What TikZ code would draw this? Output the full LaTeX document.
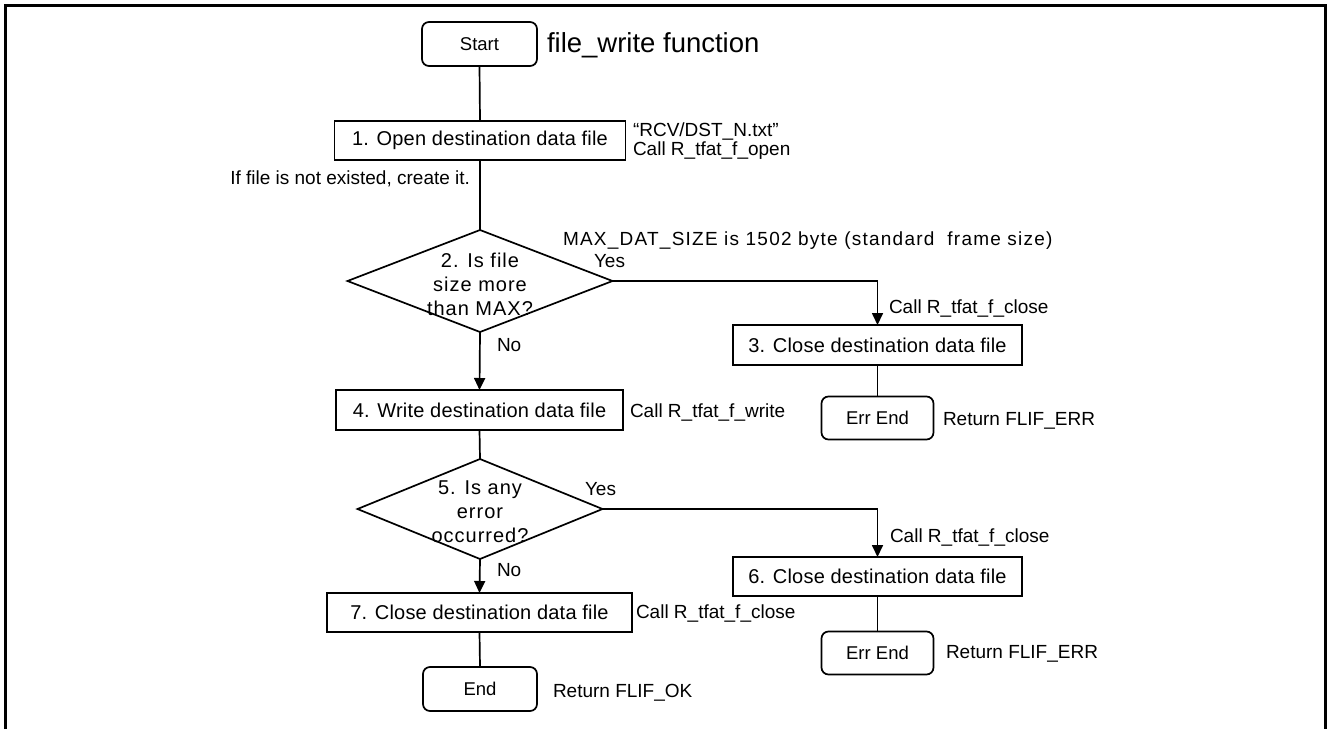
\documentclass[tikz,border=0pt]{standalone}
\usepackage{fontspec}
\setmainfont{Liberation Sans}
\usetikzlibrary{shapes.geometric,arrows.meta}

\begin{document}
\begin{tikzpicture}[x=1pt,y=-1pt,
  every node/.style={inner sep=0pt, outer sep=0pt},
  flow/.style={line width=1.7pt},
  arr/.style={flow, -{Triangle[length=12pt,width=11pt]}},
  procbox/.style={draw, line width=1.7pt, font=\fontsize{20}{24}\selectfont\addfontfeature{LetterSpace=1}},
  termbox/.style={draw, line width=1.7pt, rounded corners=7pt, font=\fontsize{18.5}{22}\selectfont},
  decbox/.style={draw, line width=1.7pt, shape=diamond},
  dectext/.style={align=center, font=\fontsize{20}{24}\selectfont\addfontfeature{LetterSpace=5}},
  note/.style={anchor=west, font=\fontsize{19}{21}\selectfont},
  notee/.style={anchor=east, font=\fontsize{19}{21}\selectfont}
]
\useasboundingbox (0,0) rectangle (1328,729);
% open outer frame
\draw[line width=3pt] (5,729) -- (5,5) -- (1325,5) -- (1325,729);

% main column
\node[termbox, minimum width=115pt, minimum height=44pt] (start) at (479.5,44) {Start};
\node[anchor=west, font=\fontsize{27.5}{30}\selectfont] (title) at (547,45) {file\_write function};

\node[procbox, minimum width=291pt, minimum height=39pt] (b1) at (480,140.5) {1. Open destination data file};
\node[note] (b1n1) at (633,131) {“RCV/DST\_N.txt”};
\node[note] (b1n2) at (633,151) {Call R\_tfat\_f\_open};
\node[notee] (b1n3) at (470,179) {If file is not existed, create it.};

\node[decbox, minimum width=265pt, minimum height=102pt] (d2) at (480,281) {};
\node[dectext] (d2t) at (480,284) {2. Is file\\size more\\than MAX?};
\node[note, font=\fontsize{19}{21}\selectfont\addfontfeature{LetterSpace=6.5}] (d2note) at (563,241) {MAX\_DAT\_SIZE is 1502 byte (standard\ \ frame size)};
\node[note] (d2yes) at (594,261) {Yes};
\node[note] (d2no) at (497,345) {No};

\node[procbox, minimum width=289pt, minimum height=40pt] (b3) at (877.5,345) {3. Close destination data file};
\node[note] (b3n) at (889,308) {Call R\_tfat\_f\_close};
\node[termbox, minimum width=112pt, minimum height=43pt] (e3) at (877.5,418) {Err End};
\node[note] (e3n) at (943,421) {Return FLIF\_ERR};

\node[procbox, minimum width=287pt, minimum height=40pt] (b4) at (479.5,410) {4. Write destination data file};
\node[note] (b4n) at (630,412) {Call R\_tfat\_f\_write};

\node[decbox, minimum width=245pt, minimum height=100pt] (d5) at (480,509) {};
\node[dectext] (d5t) at (480,512) {5. Is any\\error\\occurred?};
\node[note] (d5yes) at (585,489) {Yes};
\node[note] (d5no) at (497,570) {No};

\node[procbox, minimum width=289pt, minimum height=39pt] (b6) at (877.5,576.5) {6. Close destination data file};
\node[note] (b6n) at (890,537) {Call R\_tfat\_f\_close};
\node[termbox, minimum width=112pt, minimum height=43pt] (e6) at (877.5,653) {Err End};
\node[note] (e6n) at (946,654) {Return FLIF\_ERR};

\node[procbox, minimum width=305pt, minimum height=39pt] (b7) at (479.5,612.5) {7. Close destination data file};
\node[note] (b7n) at (636,613) {Call R\_tfat\_f\_close};
\node[termbox, minimum width=114pt, minimum height=44pt] (end) at (480,689) {End};
\node[note] (endn) at (553,693) {Return FLIF\_OK};

% connectors
\draw[flow] (start.south) -- (b1.north);
\draw[flow] (b1.south) -- (d2.north);
\draw[arr] (d2.south) -- (b4.north);
\draw[arr] (d2.east) -| (b3.north);
\draw[flow] (b3.south) -- (e3.north);
\draw[flow] (b4.south) -- (d5.north);
\draw[arr] (d5.south) -- (b7.north);
\draw[arr] (d5.east) -| (b6.north);
\draw[flow] (b6.south) -- (e6.north);
\draw[flow] (b7.south) -- (end.north);
\end{tikzpicture}
\end{document}
